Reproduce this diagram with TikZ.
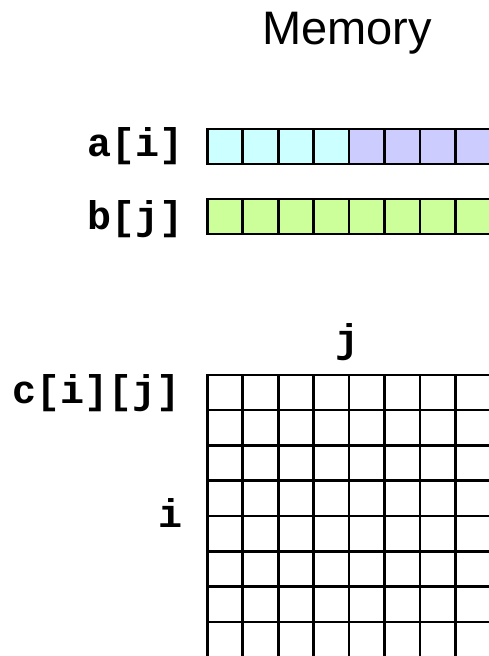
\documentclass[tikz,border=0pt]{standalone}
\usepackage{fontspec}
\setmainfont{Liberation Sans}
\setmonofont{Liberation Mono}
\usetikzlibrary{positioning}

\definecolor{cyancell}{HTML}{CCFFFF}
\definecolor{bluecell}{HTML}{CCCCFF}
\definecolor{greencell}{HTML}{CCFF99}

\begin{document}
\begin{tikzpicture}[
    x=1pt, y=-1pt,
    cell/.style={draw, line width=2.6pt, minimum width=35.45pt, minimum height=35.3pt, inner sep=0pt, anchor=north west},
    idx/.style={font=\fontsize{40}{40}\selectfont\ttfamily\bfseries, inner sep=0pt},
    ttl/.style={font=\fontsize{47}{47}\selectfont, inner sep=0pt}
]
\useasboundingbox (0,0) rectangle (488,656);

% title
\node[ttl, anchor=base] (title) at (347,44) {Memory};

% row a[i] and b[j]
\foreach \k in {1,...,8} {
  \ifnum\k<5 \def\fc{cyancell}\else\def\fc{bluecell}\fi
  \node[cell, fill=\fc] (a\k) at ({206+(\k-1)*35.45},127.5) {};
  \node[cell, fill=greencell] (b\k) at ({206+(\k-1)*35.45},197.5) {};
}
\node[idx, anchor=base east] (alab) at (184,156) {a[i]};
\node[idx, anchor=base east] (blab) at (184,229) {b[j]};

% matrix c[i][j]
\foreach \r in {1,...,8} {
  \foreach \k in {1,...,8} {
    \node[cell] (c\r\k) at ({206+(\k-1)*35.45},{373.5+(\r-1)*35.3}) {};
  }
}
\node[idx, anchor=base east] (clab) at (181,403) {c[i][j]};
\node[idx, anchor=base] (jlab) at (347,352) {j};
\node[idx, anchor=base] (ilab) at (170,527) {i};
\end{tikzpicture}
\end{document}
